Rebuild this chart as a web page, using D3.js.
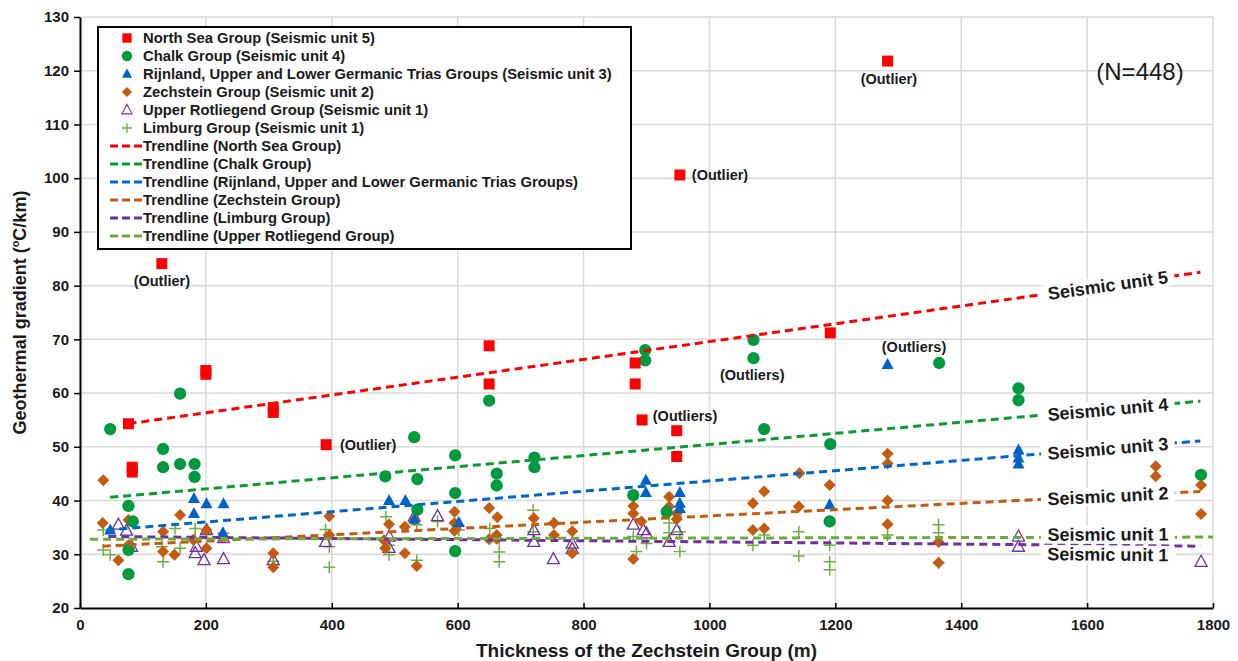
<!DOCTYPE html>
<html>
<head>
<meta charset="utf-8">
<script src="https://cdn.jsdelivr.net/npm/d3@7"></script>
<style>
	body { margin: 0; background: #fff; }
	svg text { font-family: Arial, "Liberation Sans", sans-serif; }
</style>
</head>
<body>
<div id="chart"></div>
<script>
// Data: [thickness (m), gradient (oC/km)]
var northSea = [
	[130, 84.1], [200, 63.5], [200, 64.2], [77, 54.3], [83, 45.3], [83, 46.2],
	[307, 57.3], [307, 56.4], [391, 50.4], [650, 68.8], [650, 61.7], [882, 65.6],
	[882, 61.7], [893, 55.0], [948, 53.0], [948, 48.2], [953, 100.6], [1283, 121.8],
	[1192, 71.2]
];
var chalk = [
	[48, 53.3], [159, 59.9], [132, 49.6], [132, 46.2], [159, 46.8], [182, 46.8],
	[182, 44.4], [77, 39.0], [84, 36.1], [77, 30.8], [77, 26.3], [531, 51.8],
	[536, 44.0], [536, 38.3], [596, 48.4], [596, 41.4], [596, 30.6], [485, 44.5],
	[662, 45.0], [662, 42.8], [650, 58.6], [722, 48.0], [722, 46.2], [898, 68.0],
	[898, 66.1], [879, 41.0], [932, 37.9], [1070, 69.9], [1070, 66.5], [1087, 53.3],
	[1192, 50.5], [1191, 36.1], [1365, 65.6], [1491, 60.9], [1491, 58.7], [1781, 44.8]
];
var rijnland = [
	[181, 40.4], [201, 39.4], [228, 39.4], [181, 37.6], [48, 34.5], [227, 34.0],
	[491, 40.0], [517, 40.0], [531, 36.5], [602, 35.9], [899, 43.8], [899, 41.5],
	[953, 41.5], [953, 39.5], [953, 38.5], [1191, 39.2], [1283, 65.3], [1491, 49.4],
	[1491, 47.9], [1491, 46.8]
];
var zechstein = [
	[37, 43.8], [36, 35.8], [77, 36.4], [61, 28.9], [159, 37.3], [132, 34.2],
	[132, 30.5], [150, 29.9], [201, 34.5], [201, 31.1], [77, 31.7], [307, 30.2],
	[307, 27.6], [180, 32.7], [396, 37.1], [396, 33.6], [491, 35.6], [485, 31.1],
	[516, 35.1], [516, 30.2], [535, 27.8], [531, 36.4], [595, 37.9], [595, 35.8],
	[595, 34.4], [650, 38.6], [663, 36.9], [662, 33.6], [662, 32.9], [650, 32.8],
	[483, 32.6], [721, 36.7], [753, 35.8], [753, 33.6], [782, 34.3], [782, 30.2],
	[879, 40.9], [879, 39.0], [879, 37.6], [879, 29.1], [892, 36.1], [936, 40.7],
	[936, 38.9], [948, 37.6], [948, 36.5], [1069, 39.5], [1069, 34.5], [1087, 41.7],
	[1087, 34.8], [1142, 38.9], [1143, 45.1], [1191, 42.9], [1283, 48.7], [1283, 46.9],
	[1283, 40.0], [1283, 35.6], [1364, 32.3], [1364, 28.4], [1709, 46.4], [1709, 44.5],
	[1781, 42.9], [1781, 37.5]
];
var rotliegend = [
	[61, 35.5], [74, 34.4], [82, 31.4], [183, 30.2], [197, 28.9], [228, 29.1],
	[201, 34.5], [228, 33.0], [307, 28.9], [185, 31.4], [390, 32.3], [568, 37.1],
	[491, 31.2], [531, 37.0], [491, 33.3], [721, 34.5], [721, 32.3], [752, 29.1],
	[782, 32.0], [782, 31.0], [879, 35.5], [895, 34.5], [900, 33.9], [936, 32.3],
	[948, 34.5], [1491, 33.3], [1491, 31.4], [1781, 28.6]
];
var limburg = [
	[37, 34.5], [37, 30.8], [48, 29.9], [79, 31.1], [130, 31.4], [132, 28.6],
	[151, 34.8], [159, 31.1], [183, 34.8], [183, 33.0], [201, 33.9], [228, 33.9],
	[307, 28.7], [390, 34.6], [396, 31.4], [396, 27.6], [486, 37.0], [491, 31.7],
	[491, 29.9], [535, 35.5], [535, 28.9], [568, 36.1], [602, 34.5], [666, 32.7],
	[666, 28.6], [666, 30.4], [651, 34.8], [720, 38.2], [720, 34.2], [752, 35.8],
	[879, 33.3], [884, 30.5], [900, 32.0], [936, 35.8], [936, 34.0], [953, 30.5],
	[953, 34.2], [1069, 31.7], [1087, 33.6], [1142, 34.2], [1142, 29.7], [1191, 28.6],
	[1191, 27.1], [1191, 31.7], [1283, 33.6], [1364, 35.5], [1364, 34.0], [1364, 28.4]
];

// Trendlines: [x start, y start, x end, y end]
var trendNorthSea = [77, 54.3, 1780, 82.5];
var trendChalk = [48, 40.6, 1780, 58.5];
var trendRijnland = [42, 34.5, 1780, 51.1];
var trendZechstein = [36, 31.5, 1780, 41.7];
var trendLimburg = [45, 33.3, 1780, 31.5];
var trendRotliegend = [16, 32.8, 1800, 33.2];

var xTicks = d3.range(0, 1801, 200);
var yTicks = d3.range(20, 131, 10);

var outlierNotes = [
	{ text: "(Outlier)", x: 130, y: 80.9, anchor: "middle" },
	{ text: "(Outlier)", x: 413, y: 50.4, anchor: "start" },
	{ text: "(Outlier)", x: 972, y: 100.6, anchor: "start" },
	{ text: "(Outlier)", x: 1285, y: 118.4, anchor: "middle" },
	{ text: "(Outliers)", x: 1068, y: 63.3, anchor: "middle" },
	{ text: "(Outliers)", x: 1325, y: 68.6, anchor: "middle" },
	{ text: "(Outliers)", x: 910, y: 55.8, anchor: "start" }
];

var margin = { top: 17, right: 25, bottom: 53, left: 80 };
var width = 1238 - margin.left - margin.right;
var height = 661 - margin.top - margin.bottom;

var svg = d3
	.select("#chart")
	.append("svg")
	.attr("width", 1238)
	.attr("height", 661);

var g = svg
	.append("g")
	.attr("transform", "translate(" + margin.left + "," + margin.top + ")");

var x = d3.scaleLinear().domain([0, 1800]).range([0, width]);
var y = d3.scaleLinear().domain([20, 130]).range([height, 0]);

// Gridlines
g.selectAll(".vgrid")
	.data(xTicks.slice(1))
	.enter()
	.append("line")
	.attr("x1", (d) => x(d))
	.attr("x2", (d) => x(d))
	.attr("y1", 0)
	.attr("y2", height)
	.attr("stroke", "#d9d9d9")
	.attr("stroke-width", 1.5);

g.selectAll(".hgrid")
	.data(yTicks.slice(1))
	.enter()
	.append("line")
	.attr("x1", 0)
	.attr("x2", width)
	.attr("y1", (d) => y(d))
	.attr("y2", (d) => y(d))
	.attr("stroke", "#d9d9d9")
	.attr("stroke-width", 1.5);

// Series setup
var series = [
	{ name: "North Sea Group (Seismic unit 5)", data: northSea, shape: "square", color: "#ff0000" },
	{ name: "Chalk Group (Seismic unit 4)", data: chalk, shape: "circle", color: "#009a3e" },
	{ name: "Rijnland, Upper and Lower Germanic Trias Groups (Seismic unit 3)", data: rijnland, shape: "triangle", color: "#0062c4" },
	{ name: "Zechstein Group (Seismic unit 2)", data: zechstein, shape: "diamond", color: "#c55a11" },
	{ name: "Upper Rotliegend Group (Seismic unit 1)", data: rotliegend, shape: "hollow", color: "#7030a0" },
	{ name: "Limburg Group (Seismic unit 1)", data: limburg, shape: "plus", color: "#70ad47" }
];

var trends = [
	{ name: "Trendline (North Sea Group)", t: trendNorthSea, color: "#ff0000", label: "Seismic unit 5", dy: 0 },
	{ name: "Trendline (Chalk Group)", t: trendChalk, color: "#0a9a2e", label: "Seismic unit 4", dy: 0 },
	{ name: "Trendline (Rijnland, Upper and Lower Germanic Trias Groups)", t: trendRijnland, color: "#0066cc", label: "Seismic unit 3", dy: 0 },
	{ name: "Trendline (Zechstein Group)", t: trendZechstein, color: "#c55a11", label: "Seismic unit 2", dy: 0 },
	{ name: "Trendline (Limburg Group)", t: trendLimburg, color: "#7030a0", label: "Seismic unit 1", dy: 9 },
	{ name: "Trendline (Upper Rotliegend Group)", t: trendRotliegend, color: "#6aac3c", label: "Seismic unit 1", dy: -3 }
];

function markerPath(shape) {
	if (shape == "square") return "M-5.5,-5.5H5.5V5.5H-5.5Z";
	if (shape == "circle") return d3.symbol().type(d3.symbolCircle).size(118)();
	if (shape == "triangle" || shape == "hollow") return "M0,-6.5L6,4.5H-6Z";
	if (shape == "diamond") return "M0,-6L6,0L0,6L-6,0Z";
	if (shape == "plus") return "M-6,0H6M0,-6V6";
}

function drawMarker(sel, s) {
	sel.attr("d", markerPath(s.shape));
	if (s.shape == "hollow") {
		sel.attr("fill", "none").attr("stroke", s.color).attr("stroke-width", 1.3);
	} else if (s.shape == "plus") {
		sel.attr("fill", "none").attr("stroke", s.color).attr("stroke-width", 1.5);
	} else {
		sel.attr("fill", s.color).attr("stroke", "none");
	}
}

// Points (drawn in reverse so North Sea sits on top)
series.slice().reverse().forEach(function (s) {
	g.append("g")
		.selectAll("path")
		.data(s.data)
		.enter()
		.append("path")
		.attr("transform", (d) => "translate(" + x(d[0]) + "," + y(d[1]) + ")")
		.call(drawMarker, s);
});

// Trendlines
trends.forEach(function (tr) {
	g.append("line")
		.attr("x1", x(tr.t[0]))
		.attr("y1", y(tr.t[1]))
		.attr("x2", x(tr.t[2]))
		.attr("y2", y(tr.t[3]))
		.attr("stroke", tr.color)
		.attr("stroke-width", 3)
		.attr("stroke-dasharray", "8,5");
});

// Trendline labels with white backing
var labelX = 1633;
trends.forEach(function (tr) {
	var slope = (tr.t[3] - tr.t[1]) / (tr.t[2] - tr.t[0]);
	var ly = tr.t[1] + slope * (labelX - tr.t[0]);
	var px = x(labelX);
	var py = y(ly) + tr.dy;
	var angle =
		(Math.atan2(y(tr.t[3]) - y(tr.t[1]), x(tr.t[2]) - x(tr.t[0])) * 180) / Math.PI;
	var lg = g
		.append("g")
		.attr("transform", "translate(" + px + "," + py + ") rotate(" + angle + ")");
	lg.append("rect")
		.attr("x", -67)
		.attr("y", -9)
		.attr("width", 134)
		.attr("height", 18)
		.attr("fill", "#fff");
	lg.append("text")
		.attr("text-anchor", "middle")
		.attr("dy", "0.35em")
		.attr("font-size", 18)
		.attr("font-weight", "bold")
		.attr("fill", "#1a1a1a")
		.text(tr.label);
});

// Outlier notes
g.selectAll(".note")
	.data(outlierNotes)
	.enter()
	.append("text")
	.attr("x", (d) => x(d.x))
	.attr("y", (d) => y(d.y))
	.attr("dy", "0.35em")
	.attr("text-anchor", (d) => d.anchor)
	.attr("font-size", 14.5)
	.attr("font-weight", "bold")
	.attr("fill", "#1a1a1a")
	.text((d) => d.text);

g.append("text")
	.attr("x", x(1684))
	.attr("y", y(119.9))
	.attr("dy", "0.35em")
	.attr("text-anchor", "middle")
	.attr("font-size", 24)
	.attr("fill", "#1a1a1a")
	.text("(N=448)");

// Axes
var yAxis = g
	.append("g")
	.call(d3.axisLeft(y).tickValues(yTicks).tickSizeInner(6).tickSizeOuter(0).tickPadding(5));
var xAxis = g
	.append("g")
	.attr("transform", "translate(0," + height + ")")
	.call(
		d3
			.axisBottom(x)
			.tickValues(xTicks)
			.tickFormat(d3.format("d"))
			.tickSizeInner(-5)
			.tickSizeOuter(0)
			.tickPadding(11)
	);

[yAxis, xAxis].forEach(function (ax) {
	ax.select(".domain").attr("stroke", "#000").attr("stroke-width", 2);
	ax.selectAll(".tick line").attr("stroke", "#000").attr("stroke-width", 1.5);
	ax.selectAll(".tick text")
		.attr("font-size", 15)
		.attr("font-weight", "bold")
		.attr("fill", "#1a1a1a")
		.attr("font-family", "Arial, 'Liberation Sans', sans-serif");
});

// Axis titles
var yTitle = svg
	.append("text")
	.attr("transform", "translate(26," + (margin.top + height / 2) + ") rotate(-90)")
	.attr("text-anchor", "middle")
	.attr("font-size", 18)
	.attr("font-weight", "bold")
	.attr("fill", "#1a1a1a");
yTitle.append("tspan").text("Geothermal gradient (");
yTitle.append("tspan").attr("font-size", 11).attr("dy", -7).text("o");
yTitle.append("tspan").attr("dy", 7).text("C/km)");

svg.append("text")
	.attr("x", margin.left + width / 2)
	.attr("y", 657)
	.attr("text-anchor", "middle")
	.attr("font-size", 19)
	.attr("font-weight", "bold")
	.attr("fill", "#1a1a1a")
	.text("Thickness of the Zechstein Group (m)");

// Legend
var legend = svg.append("g");
legend
	.append("rect")
	.attr("x", 98)
	.attr("y", 27)
	.attr("width", 533)
	.attr("height", 222)
	.attr("fill", "#fff")
	.attr("stroke", "#000")
	.attr("stroke-width", 2);

series.forEach(function (s, i) {
	var ly = 38 + i * 18;
	legend
		.append("path")
		.attr("transform", "translate(127," + ly + ") scale(0.85)")
		.call(drawMarker, s);
	legend
		.append("text")
		.attr("x", 143)
		.attr("y", ly)
		.attr("dy", "0.35em")
		.attr("font-size", 14.8)
		.attr("font-weight", "bold")
		.attr("fill", "#1a1a1a")
		.text(s.name);
});

trends.forEach(function (tr, i) {
	var ly = 38 + (i + 6) * 18;
	legend
		.append("line")
		.attr("x1", 110)
		.attr("x2", 143)
		.attr("y1", ly)
		.attr("y2", ly)
		.attr("stroke", tr.color)
		.attr("stroke-width", 3)
		.attr("stroke-dasharray", "8,4");
	legend
		.append("text")
		.attr("x", 143)
		.attr("y", ly)
		.attr("dy", "0.35em")
		.attr("font-size", 14.8)
		.attr("font-weight", "bold")
		.attr("fill", "#1a1a1a")
		.text(tr.name);
});
</script>
</body>
</html>
